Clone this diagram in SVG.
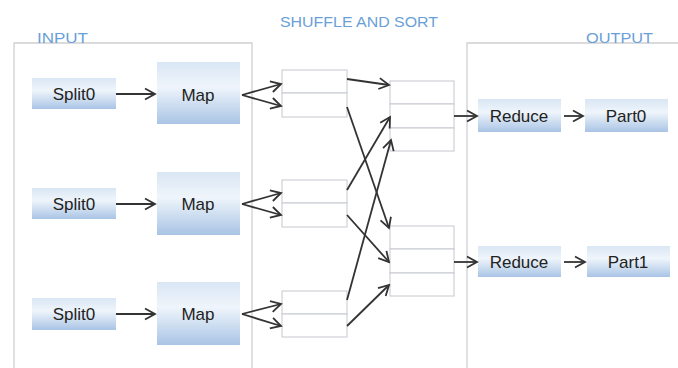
<svg xmlns="http://www.w3.org/2000/svg" width="678" height="368" viewBox="0 0 678 368">
<style>
.frame{fill:none;stroke:#cfd0d4;stroke-width:1.3}
.hdr{font-family:"Liberation Sans",Arial,sans-serif;font-size:15.5px;fill:#6a9fd8}
.blk{stroke:none;fill:url(#g)}
.lbl{font-family:"Liberation Sans",Arial,sans-serif;font-size:17px;fill:#222;text-anchor:middle}
.cell{fill:#fff;stroke:#c4c8d0;stroke-width:1}
.cn{fill:none;stroke:#333;stroke-width:1.8;marker-end:url(#ah)}
</style>
<defs>
<linearGradient id="g" x1="0" y1="0" x2="0" y2="1">
<stop offset="0" stop-color="#d9e6f4"/>
<stop offset="0.4" stop-color="#eff5fb"/>
<stop offset="1" stop-color="#a9c4e5"/>
</linearGradient>
<marker id="ah" markerUnits="userSpaceOnUse" viewBox="-12 -7 14 14" markerWidth="14" markerHeight="14" refX="0" refY="0" orient="auto">
<path d="M-10,-5.5 L0,0 L-10,5.5" fill="none" stroke="#333" stroke-width="1.8"/>
</marker>
</defs>
<rect width="678" height="368" fill="#fff"/>

<g id="input-frame">
<path class="frame" d="M14,368 V43 H252 V368"/>
<text class="hdr" x="37" y="43" textLength="51" lengthAdjust="spacingAndGlyphs">INPUT</text>
</g>
<g id="output-frame">
<path class="frame" d="M467,368 V43 H678"/>
<text class="hdr" x="586" y="43" textLength="67" lengthAdjust="spacingAndGlyphs">OUTPUT</text>
</g>
<text id="shuffle-title" class="hdr" x="280" y="27" textLength="158" lengthAdjust="spacingAndGlyphs">SHUFFLE AND SORT</text>

<g id="split0-1"><rect class="blk" x="32" y="78" width="84" height="31"/><text class="lbl" x="74" y="100">Split0</text></g>
<g id="split0-2"><rect class="blk" x="32" y="188" width="84" height="31"/><text class="lbl" x="74" y="210">Split0</text></g>
<g id="split0-3"><rect class="blk" x="32" y="298" width="84" height="32"/><text class="lbl" x="74" y="320">Split0</text></g>

<g id="map-1"><rect class="blk" x="157" y="62" width="83" height="62"/><text class="lbl" x="198" y="101">Map</text></g>
<g id="map-2"><rect class="blk" x="157" y="172" width="83" height="63"/><text class="lbl" x="198" y="210">Map</text></g>
<g id="map-3"><rect class="blk" x="157" y="282" width="83" height="63"/><text class="lbl" x="198" y="320">Map</text></g>

<g id="buf-1"><rect class="cell" x="282" y="70" width="65" height="23"/><rect class="cell" x="282" y="93" width="65" height="24"/></g>
<g id="buf-2"><rect class="cell" x="282" y="180" width="65" height="23"/><rect class="cell" x="282" y="203" width="65" height="24"/></g>
<g id="buf-3"><rect class="cell" x="282" y="291" width="65" height="23"/><rect class="cell" x="282" y="314" width="65" height="23"/></g>

<g id="merge-0"><rect class="cell" x="390" y="81" width="64" height="23"/><rect class="cell" x="390" y="104" width="64" height="24"/><rect class="cell" x="390" y="128" width="64" height="23"/></g>
<g id="merge-1"><rect class="cell" x="390" y="226" width="64" height="23"/><rect class="cell" x="390" y="249" width="64" height="24"/><rect class="cell" x="390" y="273" width="64" height="23"/></g>

<g id="reduce-0"><rect class="blk" x="478" y="99" width="83" height="33"/><text class="lbl" x="519" y="122">Reduce</text></g>
<g id="reduce-1"><rect class="blk" x="478" y="246" width="83" height="31"/><text class="lbl" x="519" y="268">Reduce</text></g>
<g id="part0"><rect class="blk" x="585" y="99" width="83" height="33"/><text class="lbl" x="626" y="122">Part0</text></g>
<g id="part1"><rect class="blk" x="587" y="246" width="83" height="31"/><text class="lbl" x="628" y="268">Part1</text></g>

<g id="connectors">
<path class="cn" d="M116,94 H155"/>
<path class="cn" d="M116,204 H155"/>
<path class="cn" d="M116,314 H155"/>
<path class="cn" d="M242,95 L281,84"/>
<path class="cn" d="M242,95 L281,106"/>
<path class="cn" d="M242,204 L281,193"/>
<path class="cn" d="M242,204 L281,215"/>
<path class="cn" d="M242,314 L281,304"/>
<path class="cn" d="M242,314 L281,326"/>
<path class="cn" d="M347,79 L389,85"/>
<path class="cn" d="M347,107 L389,228"/>
<path class="cn" d="M347,190 L390,117"/>
<path class="cn" d="M347,300 L391,140"/>
<path class="cn" d="M347,215 L389,262"/>
<path class="cn" d="M347,326 L389,285"/>
<path class="cn" d="M454,116 H477"/>
<path class="cn" d="M564,116 H583"/>
<path class="cn" d="M454,262 H477"/>
<path class="cn" d="M564,262 H585"/>
</g>
</svg>
